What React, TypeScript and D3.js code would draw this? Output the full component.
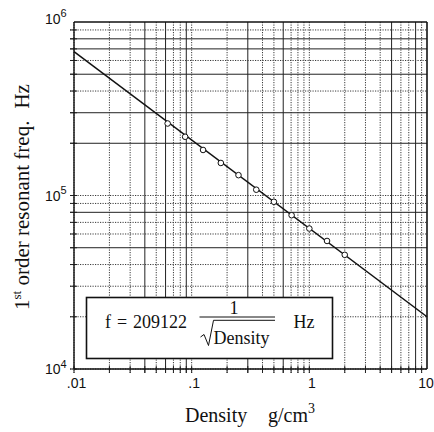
import React from "react";
import * as d3 from "d3";

// ---- data ----
const densities = [0.0625, 0.088, 0.125, 0.177, 0.25, 0.354, 0.5, 0.707, 1.0, 1.414, 2.0];
const freqs = [260000, 218000, 183000, 154000, 131000, 108000, 92000, 77000, 64500, 54700, 45500];
const fitDensity = [0.01, 10];
const fitFreq = [675000, 20000];
const xTickValues = [0.01, 0.1, 1, 10];
const xTickLabels = [".01", ".1", "1", "10"];
const yTickValues = [1e4, 1e5, 1e6];
const yTickExponents = ["4", "5", "6"];
const xDecades = [0.01, 0.1, 1];
const yDecades = [1e4, 1e5];
const multipliers = [1, 2, 3, 4, 5, 6, 7, 8, 9];

// grid appearance (style only)
const xSolid = [0.04, 0.06, 0.09, 0.3, 0.6, 5, 8];
const ySolid = [2e5, 3e5, 5e5, 7e5, 8e5, 8e4, 5e4];

const W = 434;
const H = 432;
const X0 = 74, X1 = 427, Y0 = 22, Y1 = 369;

const near = (a: number, b: number) => Math.abs(a - b) / b < 1e-6;

export default function App() {
  const x = d3.scaleLog().domain([0.01, 10]).range([X0, X1]);
  const y = d3.scaleLog().domain([1e4, 1e6]).range([Y1, Y0]);

  const xGrid: number[] = [];
  xDecades.forEach((d) => multipliers.forEach((m) => xGrid.push(d * m)));
  const yGrid: number[] = [];
  yDecades.forEach((d) => multipliers.forEach((m) => yGrid.push(d * m)));

  const line = d3
    .line<number>()
    .x((_, i) => x(fitDensity[i]))
    .y((_, i) => y(fitFreq[i]));

  const serif = "'Liberation Serif', 'Times New Roman', serif";
  const sans = "'Liberation Sans', Arial, sans-serif";

  const solidStyle = { stroke: "#222", strokeWidth: 1 };
  const dotStyle = { stroke: "#3a3a3a", strokeWidth: 1, strokeDasharray: "1.2,1.3" };

  return (
    <svg
      width={W}
      height={H}
      viewBox={`0 0 ${W} ${H}`}
      style={{ position: "absolute", left: 0, top: 0, background: "#fff" }}
    >
      <rect x={0} y={0} width={W} height={H} fill="#fff" />
      {/* vertical grid */}
      {xGrid.map((v, i) => {
        const solid = xSolid.some((s) => near(v, s));
        return (
          <line
            key={"xg" + i}
            x1={x(v)}
            x2={x(v)}
            y1={Y0}
            y2={Y1 + 4}
            {...(solid ? solidStyle : dotStyle)}
          />
        );
      })}
      {/* horizontal grid */}
      {yGrid.map((v, i) => {
        const solid = ySolid.some((s) => near(v, s));
        return (
          <line
            key={"yg" + i}
            x1={X0 - 4}
            x2={X1}
            y1={y(v)}
            y2={y(v)}
            {...(solid ? solidStyle : dotStyle)}
          />
        );
      })}
      {/* minor tick marks crossing axes */}
      {xGrid.map((v, i) => (
        <line key={"xt" + i} x1={x(v)} x2={x(v)} y1={Y1 - 3} y2={Y1 + 4} stroke="#222" strokeWidth={1} />
      ))}
      {yGrid.map((v, i) => (
        <line key={"yt" + i} x1={X0 - 4} x2={X0 + 3} y1={y(v)} y2={y(v)} stroke="#222" strokeWidth={1} />
      ))}
      {/* frame */}
      <line x1={X0} x2={X1} y1={Y0} y2={Y0} stroke="#111" strokeWidth={1.4} />
      <line x1={X0} x2={X1} y1={Y1} y2={Y1} stroke="#111" strokeWidth={1.4} />
      <line x1={X0} x2={X0} y1={Y0} y2={Y1} stroke="#111" strokeWidth={1.4} />
      <line x1={X1} x2={X1} y1={Y0} y2={Y1} stroke="#111" strokeWidth={1.6} />

      {/* fitted line */}
      <path d={line(fitDensity) || ""} fill="none" stroke="#111" strokeWidth={1.5} />

      {/* data points */}
      {densities.map((d, i) => (
        <circle key={"p" + i} cx={x(d)} cy={y(freqs[i])} r={2.8} fill="#fff" stroke="#111" strokeWidth={1} />
      ))}

      {/* formula box */}
      <rect x={86.5} y={297.5} width={246} height={61} fill="#fff" stroke="#111" strokeWidth={1.6} />
      <g fontFamily={serif} fill="#111">
        <text x={105} y={327.5} fontSize={18}>f</text>
        <text x={117} y={327.5} fontSize={18}>=</text>
        <text x={133} y={327.5} fontSize={18}>209122</text>
        <text x={234} y={313.5} fontSize={18} textAnchor="middle">1</text>
        <line x1={199.5} x2={275} y1={317} y2={317} stroke="#111" strokeWidth={1} />
        <path d="M200.5,337 L204,334.5 L208.5,345.5 L213.5,320.3 L275,320.3" fill="none" stroke="#111" strokeWidth={1} />
        <text x={213.5} y={343.5} fontSize={18}>Density</text>
        <text x={293.5} y={327.5} fontSize={18}>Hz</text>
      </g>

      {/* x tick labels */}
      {xTickValues.map((v, i) => (
        <text
          key={"xl" + i}
          x={Math.min(x(v) + 2.5, W - 8)}
          y={388}
          fontSize={14}
          fontFamily={sans}
          textAnchor="middle"
          fill="#111"
        >
          {xTickLabels[i]}
        </text>
      ))}
      {/* y tick labels */}
      {yTickValues.map((v, i) => (
        <text
          key={"yl" + i}
          x={45}
          y={y(v) + (i === yTickValues.length - 1 ? 1.5 : 5)}
          fontSize={14}
          fontFamily={sans}
          fill="#111"
        >
          10
          <tspan fontSize={11} dy={-6.5}>{yTickExponents[i]}</tspan>
        </text>
      ))}

      {/* x axis title */}
      <text x={185} y={422} fontSize={20} fontFamily={serif} fill="#111">
        Density
      </text>
      <text x={268} y={422} fontSize={20} fontFamily={serif} fill="#111">
        g/cm<tspan fontSize={14} dy={-9}>3</tspan>
      </text>

      {/* y axis title */}
      <text transform="translate(29,310) rotate(-90)" fontSize={21} fontFamily={serif} fill="#111">
        1<tspan fontSize={13} dy={-8}>st</tspan>
        <tspan dy={8}> order resonant freq.</tspan>
        <tspan dx={12}>Hz</tspan>
      </text>
    </svg>
  );
}
